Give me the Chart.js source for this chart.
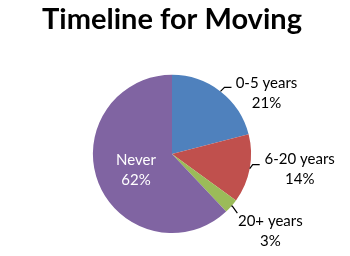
<!DOCTYPE html>
<html><head><meta charset="utf-8">
<script src="https://cdn.jsdelivr.net/npm/chart.js@4"></script>
<style>html,body{margin:0;padding:0;background:#fff}#c{display:block}</style>
</head><body>
<canvas id="c" width="350" height="256"></canvas>
<script>
const categories = ['0-5 years', '6-20 years', '20+ years', 'Never'];
const percentValues = [21, 14, 3, 62];
const sliceColors = ['#4F81BD', '#C0504D', '#9BBB59', '#8064A2'];

const labelPlugin = {
  id: 'sliceLabels',
  afterDatasetsDraw(chart, args, opts) {
    const ctx = chart.ctx;
    const meta = chart.getDatasetMeta(0);
    meta.data.forEach((arc, i) => {
      const p = arc.getProps(['x','y','startAngle','endAngle','outerRadius'], true);
      const mid = (p.startAngle + p.endAngle) / 2;
      const ex = p.x + Math.cos(mid) * p.outerRadius;
      const ey = p.y + Math.sin(mid) * p.outerRadius;
      const cfg = opts.items[i];
      const text = [categories[i], percentValues[i] + '%'];
      ctx.save();
      ctx.font = opts.font;
      ctx.textAlign = 'center';
      ctx.textBaseline = 'middle';
      if (cfg.inside) {
        const cx = p.x + cfg.dx, cy = p.y + cfg.dy;
        ctx.fillStyle = '#ffffff';
        ctx.fillText(text[0], cx, cy);
        ctx.fillText(text[1], cx, cy + opts.lineGap);
      } else {
        ctx.strokeStyle = '#000';
        ctx.lineWidth = 1.2;
        ctx.beginPath();
        ctx.moveTo(ex, ey);
        ctx.lineTo(ex + cfg.l1[0], ey + cfg.l1[1]);
        ctx.lineTo(ex + cfg.l2[0], ey + cfg.l2[1]);
        ctx.stroke();
        ctx.fillStyle = '#000';
        const cx = ex + cfg.dx, cy = ey + cfg.dy;
        ctx.fillText(text[0], cx, cy);
        ctx.fillText(text[1], cx, cy + opts.lineGap);
      }
      ctx.restore();
    });
  }
};

new Chart(document.getElementById('c'), {
  type: 'pie',
  data: {
    labels: categories,
    datasets: [{ data: percentValues, backgroundColor: sliceColors, borderWidth: 0 }]
  },
  options: {
    responsive: false,
    animation: false,
    layout: { padding: { top: 0, left: 0, right: 6, bottom: 23 } },
    plugins: {
      legend: { display: false },
      tooltip: { enabled: false },
      title: {
        display: true,
        text: 'Timeline for Moving',
        color: '#000',
        font: { family: 'Lato', size: 29, weight: 'bold', lineHeight: 1.2 },
        padding: { top: 2, bottom: 38 }
      },
      sliceLabels: {
        font: '15px Lato',
        lineGap: 20,
        items: [
          { dx: 46, dy: -8, l1: [4, -4], l2: [11, -4] },
          { dx: 50, dy: -10, l1: [3, -4], l2: [10, -4] },
          { dx: 39, dy: 15, l1: [1, 0], l2: [6, 7] },
          { inside: true, dx: -36, dy: 6 }
        ]
      }
    }
  },
  plugins: [labelPlugin]
});
</script>
</body></html>
